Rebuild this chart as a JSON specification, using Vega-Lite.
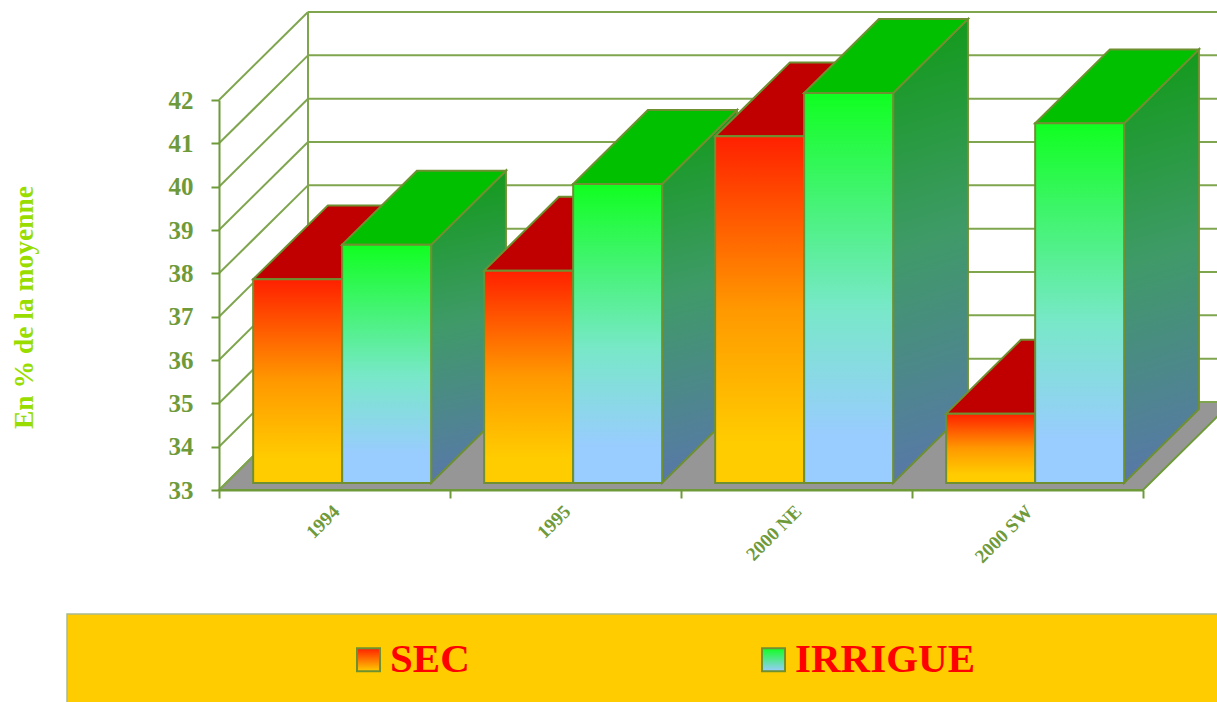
{
  "$schema": "https://vega.github.io/schema/vega-lite/v6.json",
  "width": 924,
  "height": 390,
  "autosize": {"type": "none"},
  "padding": {"left": 219, "top": 100, "right": 74, "bottom": 212},
  "background": "#ffffff",
  "config": {"view": {"stroke": null}, "font": "Liberation Serif"},
  "layer": [
    {
      "data": {"values": [{"panel": "legend"}]},
      "mark": {"type": "rect", "fill": "#ffcc00", "stroke": "#a9b98e", "strokeWidth": 1.5},
      "encoding": {
        "x": {
          "datum": -0.658,
          "type": "quantitative",
          "scale": {"domain": [0, 4], "nice": false, "zero": false},
          "axis": {
            "values": [0, 1, 2, 3, 4],
            "title": null,
            "grid": false,
            "zindex": 1,
            "domainColor": "#6f9a3a",
            "domainWidth": 2,
            "tickColor": "#6f9a3a",
            "tickWidth": 2,
            "tickSize": 8,
            "labelExpr": "['1994', '1995', '2000 NE', '2000 SW', ''][datum.value]",
            "labelAngle": -45,
            "labelAlign": "right",
            "labelBaseline": "middle",
            "labelOffset": 117,
            "labelPadding": 10,
            "labelFont": "Liberation Serif",
            "labelFontWeight": "bold",
            "labelFontSize": 19,
            "labelColor": "#6f9a3a",
            "labelOverlap": false,
            "labelBound": false,
            "labelFlush": false
          }
        },
        "x2": {"datum": 4.5},
        "y": {
          "datum": 30.138,
          "type": "quantitative",
          "scale": {"domain": [33, 42], "nice": false, "zero": false},
          "axis": {
            "values": [33, 34, 35, 36, 37, 38, 39, 40, 41, 42],
            "title": "En % de la moyenne",
            "titleFont": "Liberation Serif",
            "titleFontWeight": "bold",
            "titleFontSize": 27.5,
            "titleColor": "#99dd00",
            "titleX": -181,
            "titleY": 207,
            "titleAngle": -90,
            "grid": false,
            "zindex": 1,
            "domainColor": "#6f9a3a",
            "domainWidth": 2,
            "tickColor": "#6f9a3a",
            "tickWidth": 2,
            "tickSize": 8,
            "labelFont": "Liberation Serif",
            "labelFontWeight": "bold",
            "labelFontSize": 25,
            "labelColor": "#6f9a3a",
            "labelPadding": 18,
            "labelBound": false,
            "labelFlush": false
          }
        },
        "y2": {"datum": 27.8}
      }
    },
    {
      "data": {"values": [{"depth": 0}, {"depth": 1}]},
      "transform": [
        {"calculate": "datum.depth * 0.3853", "as": "floorLeft"},
        {"calculate": "4 + datum.depth * 0.3853", "as": "floorRight"},
        {"calculate": "33 + datum.depth * 2.03", "as": "floorLevel"}
      ],
      "mark": {"type": "area", "orient": "horizontal", "fill": "#969696", "stroke": "#6f9a3a", "strokeWidth": 2},
      "encoding": {
        "x": {"field": "floorLeft", "type": "quantitative"},
        "x2": {"field": "floorRight"},
        "y": {"field": "floorLevel", "type": "quantitative"}
      }
    },
    {
      "data": {"values": [{"level": 33}, {"level": 34}, {"level": 35}, {"level": 36}, {"level": 37}, {"level": 38}, {"level": 39}, {"level": 40}, {"level": 41}, {"level": 42}]},
      "transform": [
        {"calculate": "datum.level + 2.03", "as": "backLevel"},
        {"calculate": "0.3853", "as": "backLeft"},
        {"calculate": "4.3853", "as": "backRight"},
        {"calculate": "0", "as": "frontLeft"}
      ],
      "layer": [
        {
          "mark": {"type": "rule", "stroke": "#7fa64e", "strokeWidth": 2},
          "encoding": {
            "x": {"field": "backLeft", "type": "quantitative"},
            "x2": {"field": "backRight"},
            "y": {"field": "backLevel", "type": "quantitative"}
          }
        },
        {
          "mark": {"type": "rule", "stroke": "#7fa64e", "strokeWidth": 2},
          "encoding": {
            "x": {"field": "frontLeft", "type": "quantitative"},
            "x2": {"field": "backLeft"},
            "y": {"field": "level", "type": "quantitative"},
            "y2": {"field": "backLevel"}
          }
        },
        {
          "transform": [{"filter": "datum.level === 33"}, {"calculate": "42 + 2.03", "as": "backTop"}],
          "mark": {"type": "rule", "stroke": "#7fa64e", "strokeWidth": 2},
          "encoding": {
            "x": {"field": "backLeft", "type": "quantitative"},
            "y": {"field": "backLevel", "type": "quantitative"},
            "y2": {"field": "backTop"}
          }
        }
      ]
    },
    {
      "data": {
        "values": [
          {"category": "1994", "series": "SEC", "value": 37.7},
          {"category": "1994", "series": "IRRIGUE", "value": 38.5},
          {"category": "1995", "series": "SEC", "value": 37.9},
          {"category": "1995", "series": "IRRIGUE", "value": 39.9},
          {"category": "2000 NE", "series": "SEC", "value": 41.0},
          {"category": "2000 NE", "series": "IRRIGUE", "value": 42.0},
          {"category": "2000 SW", "series": "SEC", "value": 34.6},
          {"category": "2000 SW", "series": "IRRIGUE", "value": 41.3}
        ]
      },
      "transform": [
        {"calculate": "indexof(['1994', '1995', '2000 NE', '2000 SW'], datum.category) + 0.117 + (datum.series === 'IRRIGUE' ? 0.3853 : 0)", "as": "barLeft"},
        {"calculate": "datum.barLeft + 0.3853", "as": "barRight"},
        {"calculate": "datum.category + ' ' + datum.series", "as": "bar"},
        {"calculate": "[0.08, 0.92]", "as": "depth"},
        {"flatten": ["depth"]},
        {"calculate": "datum.barLeft + datum.depth * 0.3853", "as": "xLeft"},
        {"calculate": "datum.barRight + datum.depth * 0.3853", "as": "xRight"},
        {"calculate": "datum.value + datum.depth * 2.03", "as": "yTop"},
        {"calculate": "33 + datum.depth * 2.03", "as": "yBase"}
      ],
      "layer": [
        {
          "transform": [{"filter": "datum.series === 'IRRIGUE'"}],
          "mark": {
            "type": "area",
            "stroke": "#6f9030",
            "strokeWidth": 2,
            "fill": {
              "gradient": "linear",
              "x1": 0,
              "y1": 0,
              "x2": 0.05,
              "y2": 1,
              "stops": [
                {"offset": 0, "color": "#0f9a14"},
                {"offset": 0.5, "color": "#3f9a68"},
                {"offset": 1, "color": "#5878a8"}
              ]
            }
          },
          "encoding": {
            "x": {"field": "xRight", "type": "quantitative"},
            "y": {"field": "yTop", "type": "quantitative"},
            "y2": {"field": "yBase"},
            "detail": {"field": "bar"}
          }
        },
        {
          "mark": {"type": "area", "orient": "horizontal", "stroke": "#6f9030", "strokeWidth": 2},
          "encoding": {
            "x": {"field": "xLeft", "type": "quantitative"},
            "x2": {"field": "xRight"},
            "y": {"field": "yTop", "type": "quantitative"},
            "detail": {"field": "bar"},
            "fill": {
              "condition": {"test": "datum.series === 'SEC'", "value": "#c00000"},
              "value": "#00c000"
            }
          }
        },
        {
          "transform": [{"filter": "datum.depth < 0.5"}],
          "mark": {"type": "rect", "strokeWidth": 2},
          "encoding": {
            "x": {"field": "xLeft", "type": "quantitative"},
            "x2": {"field": "xRight"},
            "y": {"field": "yTop", "type": "quantitative"},
            "y2": {"field": "yBase"},
            "fill": {
              "condition": {
                "test": "datum.series === 'SEC'",
                "value": {
                  "gradient": "linear",
                  "x1": 0,
                  "y1": 0,
                  "x2": 0,
                  "y2": 1,
                  "stops": [
                    {"offset": 0, "color": "#ff2000"},
                    {"offset": 0.5, "color": "#ff9900"},
                    {"offset": 0.88, "color": "#ffcc00"},
                    {"offset": 1, "color": "#ffcc00"}
                  ]
                }
              },
              "value": {
                "gradient": "linear",
                "x1": 0,
                "y1": 0,
                "x2": 0,
                "y2": 1,
                "stops": [
                  {"offset": 0, "color": "#10ff20"},
                  {"offset": 0.55, "color": "#78e8c8"},
                  {"offset": 0.88, "color": "#99ccff"},
                  {"offset": 1, "color": "#99ccff"}
                ]
              }
            },
            "stroke": {
              "field": "series",
              "type": "nominal",
              "scale": {"domain": ["SEC", "IRRIGUE"], "range": ["#6f9030", "#6f9031"]},
              "legend": {
                "orient": "none",
                "legendX": 129,
                "legendY": 539,
                "direction": "horizontal",
                "columns": 2,
                "columnPadding": 283,
                "title": null,
                "padding": 0,
                "symbolType": "square",
                "symbolSize": 530,
                "labelFont": "Liberation Serif",
                "labelFontWeight": "bold",
                "labelFontSize": 41,
                "labelColor": "#ff0000",
                "labelOffset": 1,
                "labelLimit": 400,
                "encoding": {
                  "symbols": {
                    "strokeWidth": {"value": 2},
                    "fill": {
                      "condition": {
                        "test": "datum.value === 'SEC'",
                        "value": {
                          "gradient": "linear",
                          "x1": 0,
                          "y1": 0,
                          "x2": 0,
                          "y2": 1,
                          "stops": [
                            {"offset": 0, "color": "#ff2000"},
                            {"offset": 1, "color": "#ffcc00"}
                          ]
                        }
                      },
                      "value": {
                        "gradient": "linear",
                        "x1": 0,
                        "y1": 0,
                        "x2": 0,
                        "y2": 1,
                        "stops": [
                          {"offset": 0, "color": "#10ff20"},
                          {"offset": 1, "color": "#99ccff"}
                        ]
                      }
                    }
                  }
                }
              }
            }
          }
        }
      ]
    }
  ]
}
